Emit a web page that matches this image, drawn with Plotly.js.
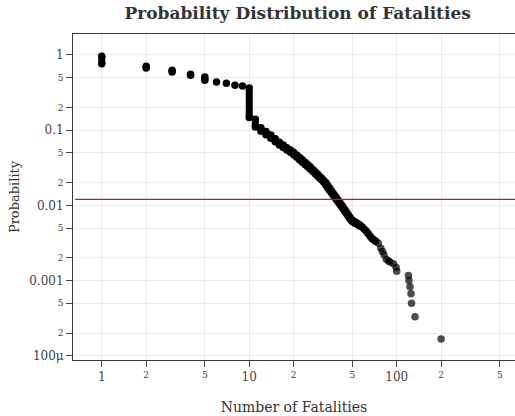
<!DOCTYPE html>
<html>
<head>
<meta charset="utf-8">
<script src="https://cdn.plot.ly/plotly-3.0.1.min.js"></script>
<style>html,body{margin:0;padding:0;background:#fff;}#chart{width:515px;height:416px;}</style>
</head>
<body>
<div id="chart"></div>
<script>
// Distinct fatality counts, with the highest and lowest plotted probability at each count
const fatalities = [1,2,3,4,5,6,7,8,9,10,11,12,13,14,15,16,17,18,19,20,21,22,23,24,25,26,27,28,29,30,31,32,33,34,35,36,37,38,39,40,41,42,43,44,45,46,47,48,49,50,52,54,56,58,60,62,64,66,68,70,72,75,78,80,82,85,88,90,95,99,100,120,121,123,125,126,133,200];
const probTop = [0.96,0.708,0.626,0.554,0.510,0.438,0.420,0.395,0.387,0.364,0.140,0.108,0.096,0.086,0.077,0.069,0.0633,0.0586,0.0544,0.0507,0.0469,0.0433,0.0400,0.0371,0.0346,0.0323,0.0301,0.0280,0.0261,0.0244,0.0229,0.0215,0.0201,0.0185,0.0170,0.0157,0.0146,0.0135,0.0126,0.0117,0.0110,0.0103,0.00965,0.00904,0.00847,0.00794,0.00746,0.00702,0.00661,0.00633,0.00604,0.00577,0.00552,0.00519,0.00486,0.00456,0.00423,0.00390,0.00363,0.00347,0.00333,0.00313,0.00269,0.00244,0.00221,0.00192,0.00182,0.00177,0.00167,0.00150,0.00133,0.00117,0.00100,0.00083,0.00067,0.00050,0.00033,0.000167];
const probBottom = [0.766,0.672,0.594,0.537,0.461,0.438,0.420,0.395,0.387,0.148,0.110,0.097,0.087,0.078,0.070,0.0635,0.0588,0.0546,0.0509,0.0471,0.0435,0.0402,0.0373,0.0348,0.0325,0.0303,0.0282,0.0263,0.0246,0.0231,0.0217,0.0203,0.0187,0.0172,0.0159,0.0148,0.0137,0.0128,0.0119,0.0112,0.0105,0.0098,0.0092,0.0086,0.0081,0.0076,0.0071,0.0067,0.0064,0.0061,0.0058,0.0056,0.0053,0.00519,0.00486,0.00456,0.00423,0.00390,0.00363,0.00347,0.00333,0.00313,0.00269,0.00244,0.00221,0.00192,0.00182,0.00177,0.00167,0.00150,0.00133,0.00117,0.00100,0.00083,0.00067,0.00050,0.00033,0.000167];
const threshold = 0.012;
const thresholdX = [0.66, 700];
const denseLimit = 75; // counts below this have many overlapping events (drawn solid)

// build vertical runs of overlapping points
const segX = [], segY = [], denseX = [], denseY = [], sparseX = [], sparseY = [];
fatalities.forEach((f, i) => {
  const px = f < denseLimit ? denseX : sparseX;
  const py = f < denseLimit ? denseY : sparseY;
  px.push(f); py.push(probTop[i]);
  if (probBottom[i] < probTop[i]) {
    segX.push(f, f, null); segY.push(probTop[i], probBottom[i], null);
    px.push(f); py.push(probBottom[i]);
  }
});

const serif = 'DejaVu Serif, serif';
const data = [
  {x: segX, y: segY, type: 'scatter', mode: 'lines', line: {color: '#000', width: 7}, hoverinfo: 'skip', showlegend: false},
  {x: denseX, y: denseY, type: 'scatter', mode: 'markers', marker: {color: '#000', size: 7.5, line: {width: 0}}, showlegend: false},
  {x: sparseX, y: sparseY, type: 'scatter', mode: 'markers', marker: {color: 'rgba(0,0,0,0.7)', size: 7.5, line: {width: 0}}, showlegend: false},
  {x: thresholdX, y: [threshold, threshold], type: 'scatter', mode: 'lines', line: {color: '#b0202a', width: 1.2}, hoverinfo: 'skip', showlegend: false}
];

const axisCommon = {
  type: 'log', dtick: 'D2', showline: true, linecolor: '#3a3a3a', linewidth: 1,
  ticks: 'outside', ticklen: 6, tickcolor: '#444', tickwidth: 1,
  showgrid: true, gridcolor: '#ebebeb', gridwidth: 1, zeroline: false,
  tickfont: {family: serif, size: 12, color: '#444'}
};

const layout = {
  width: 515, height: 416,
  margin: {l: 73, r: 0, t: 34, b: 56},
  paper_bgcolor: '#fff', plot_bgcolor: '#fff',
  showlegend: false,
  title: {text: '<b>Probability Distribution of Fatalities</b>', x: 0.578, xanchor: 'center', y: 0.968, yanchor: 'middle',
          font: {family: serif, size: 17, color: '#333'}},
  xaxis: Object.assign({}, axisCommon, {range: [-0.195, 2.802], mirror: true,
          title: {text: 'Number of Fatalities', font: {family: serif, size: 14, color: '#333'}, standoff: 18}}),
  yaxis: Object.assign({}, axisCommon, {range: [-4.056, 0.279],
          title: {text: 'Probability', font: {family: serif, size: 13, color: '#333'}, standoff: 6}})
};

Plotly.newPlot('chart', data, layout, {staticPlot: true, displayModeBar: false});
</script>
</body>
</html>
